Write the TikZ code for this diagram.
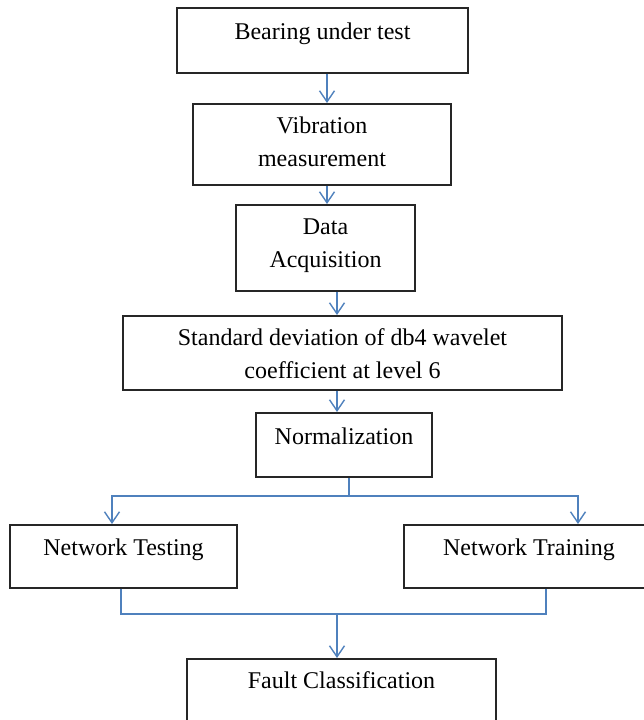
\documentclass[tikz,border=0pt]{standalone}
\usepackage{fontspec}
\setmainfont{Liberation Serif}
\usepackage{xcolor}
\usetikzlibrary{arrows.meta,positioning,calc}
\definecolor{boxline}{HTML}{262626}
\definecolor{flowblue}{HTML}{4F81BD}
\tikzset{
    stepbox/.style={draw=boxline,line width=1.6pt,anchor=north,
      inner xsep=2pt,inner ysep=0pt,align=center,
      font=\fontsize{24}{33}\selectfont},
    flowline/.style={draw=flowblue,line width=1.4pt},
    flowarrow/.style={flowline,-{Straight Barb[length=11pt,width=15pt,line width=1.4pt]}}
}
\begin{document}
\begin{tikzpicture}[x=1pt,y=-1pt]
  \useasboundingbox (0,0) rectangle (643,720);
  % boxes: anchored at their top edge, text sits high in each box
  \node[stepbox,minimum width=291pt,text height=32pt,text depth=33pt]
    (bear) at (322.5,7) {Bearing under test};
  \node[stepbox,minimum width=258pt,text height=63pt,text depth=18pt]
    (vib) at (322,103) {Vibration\\measurement};
  \node[stepbox,minimum width=179pt,text height=63pt,text depth=23pt]
    (daq) at (325.5,204) {Data\\Acquisition};
  \node[stepbox,minimum width=439pt,text height=63pt,text depth=11pt]
    (stdev) at (342.5,315) {Standard deviation of db4 wavelet\\coefficient at level 6};
  \node[stepbox,minimum width=176pt,text height=32pt,text depth=32pt]
    (norm) at (344,412) {Normalization};
  \node[stepbox,minimum width=227pt,text height=31pt,text depth=32pt]
    (test) at (123.5,524) {Network Testing};
  \node[stepbox,minimum width=250pt,text height=31pt,text depth=32pt]
    (train) at (529,524) {Network Training};
  \node[stepbox,minimum width=309pt,text height=30pt,text depth=60pt]
    (fault) at (341.5,658) {Fault Classification};

  % straight arrows down the chain
  \draw[flowarrow] ([xshift=4.5pt]bear.south) -- ([xshift=4.5pt]bear.south |- vib.north);
  \draw[flowarrow] ([xshift=5pt]vib.south) -- ([xshift=5pt]vib.south |- daq.north);
  \draw[flowarrow] ([xshift=11.5pt]daq.south) -- ([xshift=11.5pt]daq.south |- stdev.north);
  \draw[flowarrow] ([xshift=-5.5pt]stdev.south) -- ([xshift=-5.5pt]stdev.south |- norm.north);

  % split to testing and training
  \coordinate (split) at (349,496);
  \draw[flowline] (norm.south -| split) -- (split);
  \draw[flowarrow] (split) -| ([xshift=-11.5pt]test.north);
  \draw[flowarrow] (split) -| ([xshift=49pt]train.north);

  % join into classification
  \coordinate (join) at (337,614);
  \draw[flowline] ([xshift=-2.5pt]test.south) |- (join) -| ([xshift=17pt]train.south);
  \draw[flowarrow] (join) -- (join |- fault.north);
\end{tikzpicture}
\end{document}
